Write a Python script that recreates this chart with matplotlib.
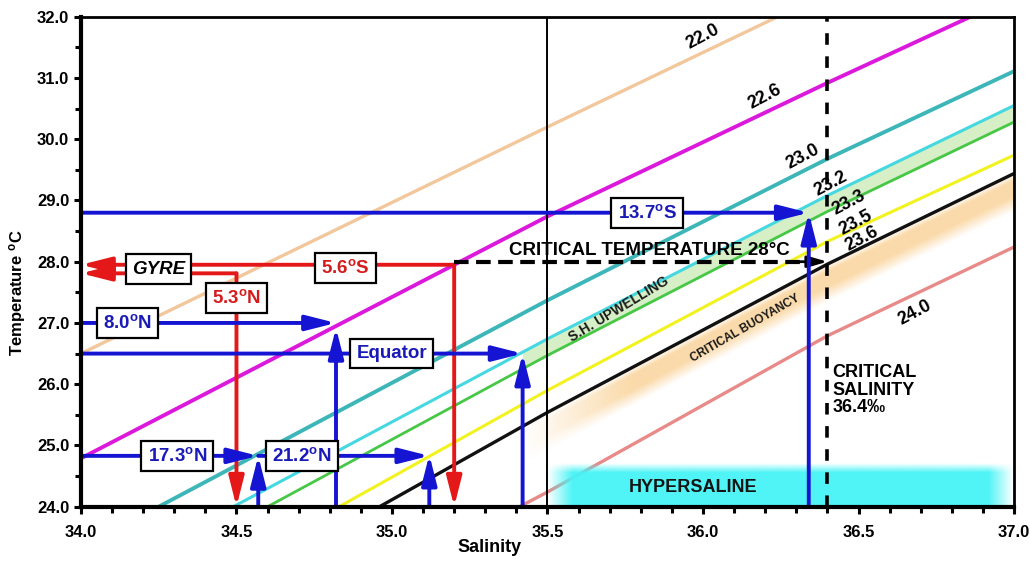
import matplotlib
matplotlib.use('Agg')
import matplotlib.pyplot as plt
import numpy as np
from matplotlib.ticker import MultipleLocator, FormatStrFormatter

plt.rcParams['font.family'] = ['Liberation Sans', 'DejaVu Sans']
plt.rcParams['mathtext.fontset'] = 'custom'
plt.rcParams['mathtext.rm'] = 'Liberation Sans'
plt.rcParams['mathtext.bf'] = 'Liberation Sans:bold'
plt.rcParams['mathtext.it'] = 'Liberation Sans:italic'

# ---------------- data ----------------
sigma_labels = ['22.0', '22.6', '23.0', '23.2', '23.3', '23.5', '23.6', '24.0']
iso_S = [
    [34.00, 35.50, 36.24],
    [34.00, 35.50, 36.40, 36.86],
    [34.25, 35.50, 36.40, 37.00],
    [34.49, 35.50, 36.40, 37.00],
    [34.60, 35.50, 36.40, 37.00],
    [34.83, 35.50, 36.40, 37.00],
    [34.96, 35.50, 36.40, 37.00],
    [35.41, 35.50, 36.40, 37.00],
]
iso_T = [
    [26.50, 30.20, 32.00],
    [24.79, 28.74, 30.92, 32.00],
    [24.00, 27.37, 29.68, 31.11],
    [24.00, 26.74, 29.08, 30.55],
    [24.00, 26.47, 28.82, 30.28],
    [24.00, 25.90, 28.33, 29.74],
    [24.00, 25.54, 27.96, 29.44],
    [24.00, 24.24, 26.79, 28.24],
]
iso_colors = ['#f3c79c', '#dc18dc', '#3cb6b8', '#45d8e0', '#46c846',
              '#f2f21e', '#111111', '#e88a88']
iso_lw = [2.4, 2.8, 2.8, 2.2, 2.0, 2.2, 2.4, 2.4]
# label positions (S, T)
iso_label_S = [36.00, 36.20, 36.32, 36.41, 36.47, 36.49, 36.51, 36.68]
iso_label_T = [31.67, 30.70, 29.72, 29.27, 28.97, 28.64, 28.37, 27.17]

# blue (latitude) arrows
blue_labels = [r'13.7$^{\mathbf{o}}$S', r'8.0$^{\mathbf{o}}$N', 'Equator',
               r'17.3$^{\mathbf{o}}$N', r'21.2$^{\mathbf{o}}$N']
blue_T = [28.80, 27.00, 26.50, 24.83, 24.83]
blue_S_start = [34.00, 34.00, 34.00, 34.00, 34.57]
blue_S_tip = [36.34, 34.82, 35.42, 34.57, 35.12]
blue_T_vtip = [28.80, 26.92, 26.50, 24.83, 24.85]
blue_box_S = [35.82, 34.15, 35.00, 34.31, 34.71]

# red (gyre) arrows
red_labels = [r'5.6$^{\mathbf{o}}$S', r'5.3$^{\mathbf{o}}$N']
red_T = [27.95, 27.81]
red_S = [35.20, 34.50]
red_box_S = [34.85, 34.50]
red_box_T = [27.90, 27.41]
gyre_S, gyre_T = 34.25, 27.88

critical_T = 28.0
critical_S = 36.4
section_S = 35.5

hyper_S = [35.50, 37.00]
hyper_T = [24.00, 24.66]

upwell_S = [35.42, 37.00]
buoy_S = [35.42, 37.00]

BLUE = '#1414d2'
RED = '#e41818'

# ---------------- figure ----------------
fig = plt.figure(figsize=(10.30, 5.61), dpi=100)
ax = fig.add_axes([0.0786, 0.0968, 0.9059, 0.8734])
ax.set_xlim(34.0, 37.0)
ax.set_ylim(24.0, 32.0)

# S.H. upwelling band (between 23.2 and 23.3)
sg = np.linspace(upwell_S[0], upwell_S[1], 200)
t_cy = np.interp(sg, iso_S[3], iso_T[3])
t_gr = np.interp(sg, iso_S[4], iso_T[4])
ax.fill_between(sg, t_gr, t_cy, color='#d6efc6', lw=0, zorder=1)

# critical buoyancy band (fuzzy orange below 23.6)
Sg = np.linspace(35.2, 37.0, 400)
Tg = np.linspace(24.0, 30.0, 400)
SS, TT = np.meshgrid(Sg, Tg)
tb = np.interp(SS, iso_S[6], iso_T[6])
d = tb - TT
a = np.clip(d / 0.12, 0, 1) * np.clip((0.62 - d) / 0.25, 0, 1)
a *= np.clip((SS - buoy_S[0]) / 0.35, 0, 1)
img = np.zeros(SS.shape + (4,))
img[..., 0] = 250 / 255
img[..., 1] = 212 / 255
img[..., 2] = 155 / 255
img[..., 3] = a * 0.85
ax.imshow(img, extent=[Sg[0], Sg[-1], Tg[0], Tg[-1]], origin='lower',
          aspect='auto', zorder=1, interpolation='bilinear')

# isopycnals
for s, t, c, lw in zip(iso_S, iso_T, iso_colors, iso_lw):
    ax.plot(s, t, color=c, lw=lw, zorder=2, solid_capstyle='butt')

for lab, s, t in zip(sigma_labels, iso_label_S, iso_label_T):
    ax.text(s, t, lab, rotation=28, ha='center', va='center',
            fontsize=13, fontweight='bold', color='black', zorder=6)

# hypersaline fuzzy band
Sh = np.linspace(hyper_S[0], hyper_S[1], 300)
Th = np.linspace(hyper_T[0], hyper_T[1] + 0.1, 100)
SH, TH = np.meshgrid(Sh, Th)
ah = np.clip((SH - hyper_S[0]) / 0.08, 0, 1) * np.clip((hyper_S[1] - SH) / 0.08, 0, 1)
ah *= np.clip((hyper_T[1] + 0.05 - TH) / 0.15, 0, 1)
himg = np.zeros(SH.shape + (4,))
himg[..., 0] = 70 / 255
himg[..., 1] = 244 / 255
himg[..., 2] = 246 / 255
himg[..., 3] = ah * 0.95
ax.imshow(himg, extent=[Sh[0], Sh[-1], Th[0], Th[-1]], origin='lower',
          aspect='auto', zorder=3, interpolation='bilinear')
ax.text(35.967, 24.31, 'HYPERSALINE', ha='center', va='center',
        fontsize=13, fontweight='bold', color='#141414', zorder=6)

# reference verticals
ax.axvline(section_S, color='black', lw=1.4, zorder=3.5)
ax.axvline(critical_S, color='black', lw=2.6, ls=(0, (3.2, 3.2)), zorder=3.5)


def arrow(x0, y0, x1, y1, color, lw=2.8, z=4):
    ax.annotate('', xy=(x1, y1), xytext=(x0, y0),
                arrowprops=dict(arrowstyle='-|>,head_length=1.5,head_width=0.38',
                                color=color, lw=lw, shrinkA=0, shrinkB=0,
                                mutation_scale=12),
                zorder=z)


def box(x, y, s, color, italic=False):
    ax.text(x, y, s, ha='center', va='center', fontsize=13.5,
            fontweight='bold', color=color,
            fontstyle='italic' if italic else 'normal',
            bbox=dict(boxstyle='square,pad=0.33', fc='white', ec='black', lw=1.6),
            zorder=7)


# red gyre arrows
for t, s in zip(red_T, red_S):
    arrow(s, t, 34.0, t, RED)
    arrow(s, t, s, 24.0, RED)
for lab, s, t in zip(red_labels, red_box_S, red_box_T):
    box(s, t, lab, '#d41c1c')
box(gyre_S, gyre_T, 'GYRE', 'black', italic=True)

# critical temperature dashed arrow
ax.plot([red_S[0], critical_S - 0.04], [critical_T, critical_T], color='black',
        lw=3, ls=(0, (3.5, 1.8)), zorder=4)
ax.annotate('', xy=(critical_S, critical_T), xytext=(critical_S - 0.12, critical_T),
            arrowprops=dict(arrowstyle='-|>,head_length=1.2,head_width=0.35',
                            color='black', lw=2, shrinkA=0, shrinkB=0,
                            mutation_scale=10), zorder=4)
ax.text(35.375, 28.04, 'CRITICAL TEMPERATURE 28°C', ha='left', va='bottom',
        fontsize=13.5, fontweight='bold', color='black', zorder=6)

# blue latitude arrows
for t, s0, s1, tv in zip(blue_T, blue_S_start, blue_S_tip, blue_T_vtip):
    arrow(s0, t, s1, t, BLUE)
    arrow(s1, 24.0, s1, tv, BLUE)
for lab, s, t in zip(blue_labels, blue_box_S, blue_T):
    box(s, t, lab, '#1a1ab8')

# band labels
ax.text(35.73, 27.22, 'S.H. UPWELLING', rotation=31, ha='center', va='center',
        fontsize=10, fontweight='bold', color='#1a1a1a', zorder=6)
ax.text(36.137, 26.91, 'CRITICAL BUOYANCY', rotation=30, ha='center', va='center',
        fontsize=8.5, fontweight='bold', color='#1a1a1a', zorder=6)
ax.text(36.417, 26.33, 'CRITICAL\nSALINITY\n36.4‰', ha='left', va='top',
        fontsize=13, fontweight='bold', color='black', linespacing=1.05, zorder=6)

# axes styling
ax.xaxis.set_major_locator(MultipleLocator(0.5))
ax.xaxis.set_minor_locator(MultipleLocator(0.1))
ax.yaxis.set_major_locator(MultipleLocator(1.0))
ax.yaxis.set_minor_locator(MultipleLocator(0.5))
ax.xaxis.set_major_formatter(FormatStrFormatter('%.1f'))
ax.yaxis.set_major_formatter(FormatStrFormatter('%.1f'))
ax.tick_params(which='both', direction='out', width=2.2, length=5,
               labelsize=12)
ax.tick_params(which='minor', length=4)
ax.tick_params(axis='x', pad=8)
for lab in ax.get_xticklabels() + ax.get_yticklabels():
    lab.set_fontweight('bold')
for side, lw in [('left', 3.0), ('bottom', 3.0), ('top', 2.0), ('right', 2.0)]:
    ax.spines[side].set_linewidth(lw)
    ax.spines[side].set_zorder(8)

ax.set_xlabel('Salinity', fontsize=13, fontweight='bold')
ax.xaxis.set_label_coords(0.438, -0.066)
ax.set_ylabel(r'Temperature $^{\mathbf{o}}$C', fontsize=12, fontweight='bold')
ax.yaxis.set_label_coords(-0.057, 0.437)

fig.savefig('out.png', dpi=100)
